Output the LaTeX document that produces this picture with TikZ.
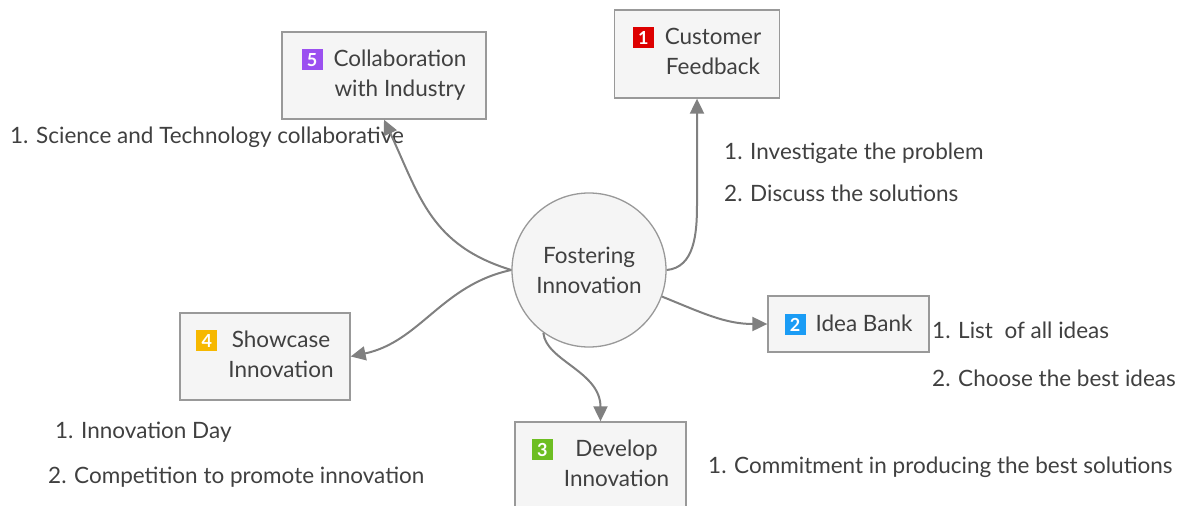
\documentclass[tikz,border=0pt]{standalone}
\usepackage{fontspec}
\setmainfont{Lato}
\usepackage{tikz}
\usetikzlibrary{arrows.meta}
\usepackage{xcolor}
\definecolor{textgray}{HTML}{404040}
\definecolor{linegray}{HTML}{808080}
\definecolor{boxgray}{HTML}{999999}
\definecolor{boxfill}{HTML}{F5F5F5}
\definecolor{badgered}{HTML}{DD0000}
\definecolor{badgeblue}{HTML}{1A9CF5}
\definecolor{badgegreen}{HTML}{6DBE22}
\definecolor{badgeorange}{HTML}{F6B800}
\definecolor{badgepurple}{HTML}{9B50F0}
\newcommand{\badge}[2]{{\setlength{\fboxsep}{0pt}\colorbox{#1}{\makebox[21pt][c]{\rule[-3pt]{0pt}{21pt}\textcolor{white}{\bfseries\fontsize{18}{18}\selectfont #2}}}}}
\newcommand{\twolines}[2]{\begin{tabular}[t]{@{}c@{}}#1\\#2\end{tabular}}
\tikzset{
    x=1pt,
    y=1pt,
    every node/.style={
        text=textgray,
        font=\fontsize{22.5}{30}\selectfont,
    },
    topic/.style={
        draw=boxgray,
        line width=1.3pt,
        fill=boxfill,
        inner sep=0pt,
    },
    hub/.style={
        draw=boxgray,
        line width=1.3pt,
        fill=boxfill,
        circle,
        minimum size=154,
        align=center,
    },
    note/.style={
        anchor=west,
        inner sep=0pt,
        text height=1.5ex,
        text depth=.25ex,
    },
    link/.style={
        draw=linegray,
        line width=2pt,
        -{Triangle[length=15pt,width=14pt]},
    },
}

\begin{document}
\begin{tikzpicture}
    \useasboundingbox (0,0) rectangle (1179,-506);

    % Central topic
    \node[hub] (hub) at (589,-270) {Fostering\\Innovation};

    % Main topics, numbered
    \node[topic, minimum width=165, minimum height=88] (feedback) at (697,-54)
      {\badge{badgered}{1}\hspace{11pt}\twolines{Customer}{Feedback}};
    \node[topic, minimum width=161, minimum height=56] (ideas) at (848.5,-324)
      {\badge{badgeblue}{2}\hspace{10pt}Idea Bank};
    \node[topic, minimum width=171, minimum height=87] (develop) at (600.5,-465.5)
      {\badge{badgegreen}{3}\hspace{11pt}\twolines{Develop}{Innovation}};
    \node[topic, minimum width=170, minimum height=87] (showcase) at (265,-356.5)
      {\badge{badgeorange}{4}\hspace{11pt}\twolines{Showcase}{Innovation}};
    \node[topic, minimum width=204, minimum height=87] (industry) at (384,-75.5)
      {\badge{badgepurple}{5}\hspace{11pt}\twolines{Collaboration}{with Industry}};

    % Notes under each topic
    \node[note] (feedback1) at (724,-156) {1. Investigate the problem};
    \node[note] (feedback2) at (724,-198) {2. Discuss the solutions};
    \node[note] (ideas1) at (932,-335) {1. List\ \ of all ideas};
    \node[note] (ideas2) at (932,-383) {2. Choose the best ideas};
    \node[note] (develop1) at (708,-470) {1. Commitment in producing the best solutions};
    \node[note] (showcase1) at (55,-435) {1. Innovation Day};
    \node[note] (showcase2) at (48,-480) {2. Competition to promote innovation};
    \node[note] (industry1) at (10,-140) {1. Science and Technology collaborative};

    % Branches from the hub
    \coordinate (bend) at (697,-205);
    \draw[link] (hub.east) to[out=5,in=-90] (bend) -- (feedback.south);
    \draw[link] (hub.-20) to[out=-22,in=180] (ideas.west);
    \draw[link] (hub.-126) to[out=-85,in=90,out distance=28,in distance=50] (develop.north);
    \draw[link] (hub.west) to[out=192,in=12] (showcase.east);
    \draw[link] (hub.west) to[out=163,in=-65,looseness=1.1] (industry.south);
\end{tikzpicture}
\end{document}
